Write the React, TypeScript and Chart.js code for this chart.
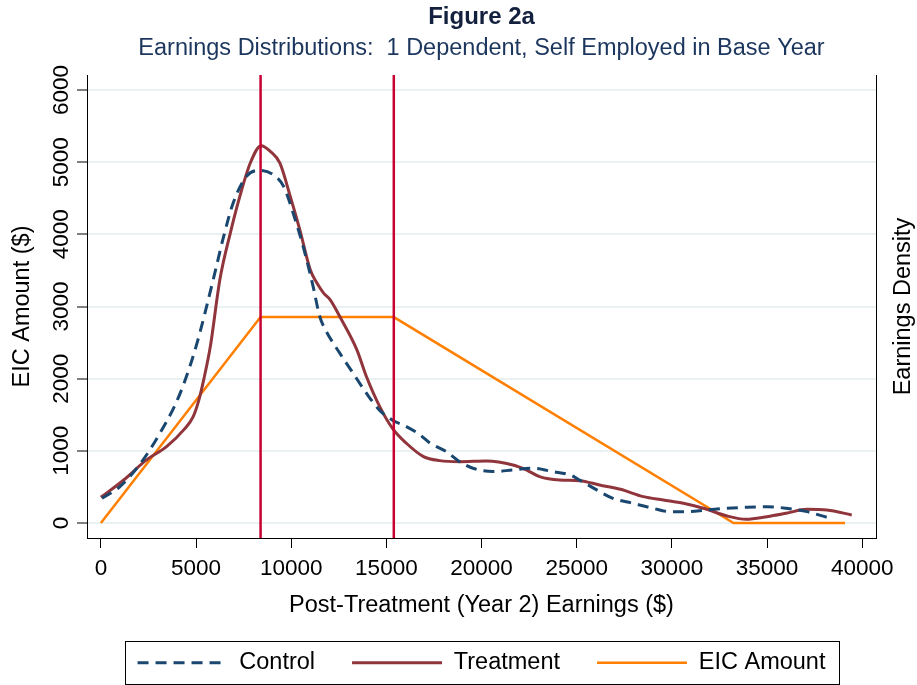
import React, { useEffect, useRef } from "react";
import { Chart, registerables } from "chart.js";

Chart.register(...registerables);

const FONT = '"Liberation Sans", Arial, Helvetica, sans-serif';

// ---- text ----
const titleText = "Figure 2a";
const subtitleText = "Earnings Distributions:  1 Dependent, Self Employed in Base Year";
const xTitle = "Post-Treatment (Year 2) Earnings ($)";
const yTitle = "EIC Amount ($)";
const y2Title = "Earnings Density";
const seriesNames = ["Control", "Treatment", "EIC Amount"];

// ---- axes ----
const xTickValues = [0, 5000, 10000, 15000, 20000, 25000, 30000, 35000, 40000];
const yTickValues = [0, 1000, 2000, 3000, 4000, 5000, 6000];
const xLimits = [-730, 40725];
const yLimits = [-208, 6208];

// ---- EIC schedule (1 dependent) ----
const eicEarnings = [0, 8390, 15390, 33241, 39100];
const eicAmount = [0, 2853, 2853, 0, 0];
const kinkEarnings = [8390, 15390];

// ---- earnings densities (plotted on the density axis) ----
const controlEarnings = [60, 1000, 2150, 3100, 3900, 4400, 5050, 5900, 6450, 6950, 7650, 8350, 9050, 9600, 10100, 10650, 11150, 11500, 11800, 12550, 13250, 13950, 14650, 15350, 16050, 16750, 17300, 18150, 18850, 19550, 20600, 21650, 22700, 23750, 24650, 25150, 26050, 26900, 27950, 29000, 29900, 30800, 31800, 32900, 33900, 35000, 36000, 37100, 38150];
const controlDensity = [343, 504, 850, 1244, 1637, 1960, 2492, 3370, 3971, 4434, 4803, 4886, 4827, 4665, 4295, 3810, 3278, 2861, 2677, 2354, 2076, 1799, 1560, 1420, 1336, 1225, 1105, 990, 850, 758, 712, 735, 758, 712, 666, 596, 458, 342, 273, 204, 157, 157, 180, 204, 218, 226, 204, 157, 79];

const treatmentEarnings = [0, 1200, 2400, 3450, 4350, 4850, 5150, 5400, 5750, 6250, 6800, 7300, 7850, 8420, 8900, 9400, 9950, 10450, 11000, 11350, 11700, 12050, 12550, 13450, 13950, 14650, 15350, 16050, 16950, 17800, 18850, 20250, 21650, 22350, 23050, 24100, 25150, 26200, 27300, 28500, 29550, 30600, 31650, 32900, 33900, 35000, 36000, 37100, 38150, 39450];
const treatmentDensity = [356, 596, 874, 1058, 1290, 1474, 1706, 1983, 2445, 3370, 4018, 4526, 4989, 5229, 5150, 4989, 4526, 4064, 3509, 3324, 3186, 3093, 2861, 2399, 2029, 1613, 1300, 1105, 920, 864, 850, 860, 804, 735, 642, 596, 587, 527, 467, 365, 319, 273, 204, 97, 51, 87, 134, 190, 180, 111];

const NAVY = "#1a476f";
const MAROON = "#90353b";
const ORANGE = "#ff7f00";
const CRANBERRY = "#c80032";
const GRID = "#eaf1f3";

const pts = (xs: number[], ys: number[]) => xs.map((x, i) => ({ x, y: ys[i] }));

const kinkPlugin = {
  id: "kinkLines",
  afterDatasetsDraw(chart: any) {
    const { ctx, chartArea, scales } = chart;
    ctx.save();
    ctx.strokeStyle = CRANBERRY;
    ctx.lineWidth = 2.5;
    kinkEarnings.forEach((v) => {
      const px = scales.x.getPixelForValue(v);
      ctx.beginPath();
      ctx.moveTo(px, chartArea.top);
      ctx.lineTo(px, chartArea.bottom);
      ctx.stroke();
    });
    ctx.restore();
  },
};

const decorPlugin = {
  id: "decor",
  afterDraw(chart: any) {
    const { ctx, chartArea } = chart;
    // right axis title
    ctx.save();
    ctx.translate(chartArea.right + 28, (chartArea.top + chartArea.bottom) / 2);
    ctx.rotate(-Math.PI / 2);
    ctx.textAlign = "center";
    ctx.textBaseline = "middle";
    ctx.font = `23.5px ${FONT}`;
    ctx.fillStyle = "#000";
    ctx.fillText(y2Title, 0, 0);
    ctx.restore();
    // legend frame
    const hb = chart.legend && chart.legend.legendHitBoxes;
    if (hb && hb.length) {
      const left = Math.min(...hb.map((h: any) => h.left)) - 13;
      const right = Math.max(...hb.map((h: any) => h.left + h.width)) + 13;
      const top = hb[0].top - 10.5;
      const bottom = hb[0].top + hb[0].height + 8.5;
      ctx.save();
      ctx.strokeStyle = "#000";
      ctx.lineWidth = 1;
      ctx.strokeRect(Math.round(left) + 0.5, Math.round(top) + 0.5, Math.round(right - left), Math.round(bottom - top));
      ctx.restore();
    }
  },
};

export default function App() {
  const ref = useRef<HTMLCanvasElement>(null);
  useEffect(() => {
    const canvas = ref.current;
    if (!canvas) return;
    Chart.defaults.font.family = FONT;
    const chart = new Chart(canvas, {
      type: "line",
      data: {
        datasets: [
          {
            label: seriesNames[0],
            data: pts(controlEarnings, controlDensity),
            yAxisID: "y2",
            borderColor: NAVY,
            backgroundColor: NAVY,
            borderWidth: 3,
            borderDash: [11, 7],
            pointRadius: 0,
            cubicInterpolationMode: "monotone",
            fill: false,
          },
          {
            label: seriesNames[1],
            data: pts(treatmentEarnings, treatmentDensity),
            yAxisID: "y2",
            borderColor: MAROON,
            backgroundColor: MAROON,
            borderWidth: 3,
            pointRadius: 0,
            cubicInterpolationMode: "monotone",
            fill: false,
          },
          {
            label: seriesNames[2],
            data: pts(eicEarnings, eicAmount),
            yAxisID: "y",
            borderColor: ORANGE,
            backgroundColor: ORANGE,
            borderWidth: 2.5,
            pointRadius: 0,
            tension: 0,
            fill: false,
          },
        ],
      },
      options: {
        animation: false,
        responsive: true,
        maintainAspectRatio: false,
        devicePixelRatio: 1,
        layout: { padding: { top: 0, left: 0, right: 0, bottom: 0.5 } },
        scales: {
          x: {
            type: "linear",
            min: xLimits[0],
            max: xLimits[1],
            afterBuildTicks: (s: any) => {
              s.ticks = xTickValues.map((v) => ({ value: v }));
            },
            afterFit: (s: any) => {
              s.height = 76;
            },
            ticks: {
              autoSkip: false,
              maxRotation: 0,
              minRotation: 0,
              padding: 6.8,
              color: "#000",
              font: { size: 22.5 },
              callback: (v: any) => String(v),
            },
            grid: {
              display: true,
              drawOnChartArea: false,
              drawTicks: true,
              tickLength: 10,
              tickColor: "#000",
              tickWidth: 1,
            },
            border: { display: true, color: "#000", width: 1 },
            title: {
              display: true,
              text: xTitle,
              color: "#000",
              font: { size: 23.5 },
              padding: { top: 0, bottom: -5.6 },
            },
          },
          y: {
            type: "linear",
            position: "left",
            min: yLimits[0],
            max: yLimits[1],
            afterBuildTicks: (s: any) => {
              s.ticks = yTickValues.map((v) => ({ value: v }));
            },
            afterFit: (s: any) => {
              s.width = 87;
            },
            ticks: {
              autoSkip: false,
              minRotation: 90,
              maxRotation: 90,
              crossAlign: "center",
              padding: -9.4,
              color: "#000",
              font: { size: 22.5 },
              callback: (v: any) => String(v),
            },
            grid: {
              display: true,
              drawOnChartArea: true,
              color: GRID,
              lineWidth: 2,
              drawTicks: true,
              tickLength: 10,
              tickColor: "#000",
              tickWidth: 1,
            },
            border: { display: true, color: "#000", width: 1 },
            title: {
              display: true,
              text: yTitle,
              color: "#000",
              font: { size: 23.5 },
              padding: { top: 8.7, bottom: 0 },
            },
          },
          y2: {
            type: "linear",
            position: "right",
            min: yLimits[0],
            max: yLimits[1],
            afterFit: (s: any) => {
              s.width = 41;
            },
            ticks: { display: false },
            grid: { display: true, drawOnChartArea: false, drawTicks: false },
            border: { display: true, color: "#000", width: 1 },
            title: { display: false },
          },
        },
        plugins: {
          title: {
            display: true,
            text: titleText,
            color: "#13213e",
            fullSize: false,
            font: { size: 24, weight: "bold" },
            padding: { top: 3, bottom: 0 },
          },
          subtitle: {
            display: true,
            text: subtitleText,
            color: "#1c365e",
            fullSize: false,
            font: { size: 23.5 },
            padding: { top: 2.2, bottom: 12.8 },
          },
          legend: {
            display: true,
            position: "bottom",
            fullSize: false,
            labels: {
              usePointStyle: true,
              pointStyle: "line",
              pointStyleWidth: 90,
              padding: 37,
              color: "#000",
              font: { size: 23.5 },
              generateLabels: (c: any) => {
                const items = (Chart.defaults.plugins.legend.labels as any).generateLabels(c);
                items.forEach((it: any) => {
                  const ds: any = c.data.datasets[it.datasetIndex];
                  it.lineDash = ds.borderDash || [];
                  it.lineWidth = ds.borderWidth;
                  it.strokeStyle = ds.borderColor;
                  it.fillStyle = ds.borderColor;
                  it.pointStyle = "line";
                });
                return items;
              },
            },
          },
          tooltip: { enabled: false },
        },
      } as any,
      plugins: [kinkPlugin, decorPlugin],
    });
    return () => chart.destroy();
  }, []);
  return (
    <div style={{ position: "fixed", left: 0, top: 0, width: 917, height: 685, background: "#fff" }}>
      <canvas ref={ref} />
    </div>
  );
}
